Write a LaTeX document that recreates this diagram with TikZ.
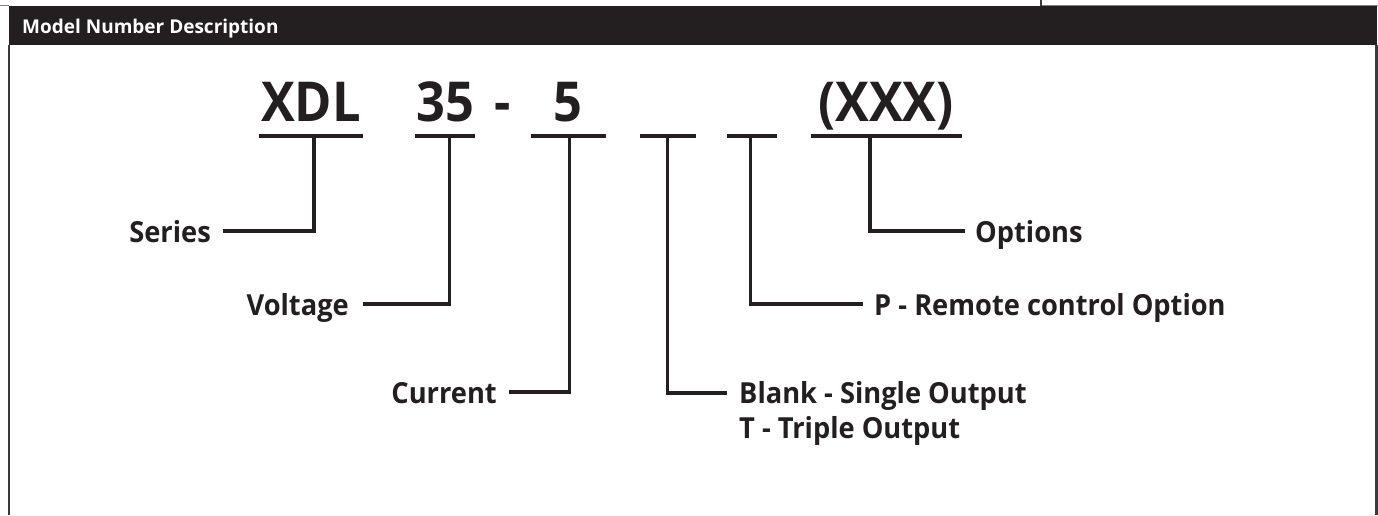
\documentclass[tikz,border=0pt]{standalone}
\usepackage{fontspec}
\setmainfont{Open Sans}
\newfontfamily\lblfont[FakeStretch=0.94]{Open Sans}
\newfontfamily\codefont[FakeStretch=0.92]{Open Sans}
\definecolor{ink}{HTML}{231F20}
\definecolor{edge}{HTML}{3A3A3A}
\tikzset{
  code/.style={anchor=base, inner sep=0pt, text=ink, font=\codefont\bfseries\fontsize{55}{60}\selectfont},
  lbl/.style={inner sep=0pt, text=ink, font=\lblfont\bfseries\fontsize{29}{35}\selectfont},
  uline/.style={draw=ink, line width=3.5pt},
  conn/.style={draw=ink, line width=3.5pt, line join=miter},
}
\begin{document}
\begin{tikzpicture}[x=1pt,y=-1pt]
\fill[white] (0,0) rectangle (1378,515);
\useasboundingbox (0,0) rectangle (1378,515);
% frame
\fill[ink] (9,6) rectangle (1377,45);
\draw[edge, line width=1.5pt] (9,45) -- (9,515);
\draw[edge, line width=2.5pt] (1376.5,45) -- (1376.5,515);
\draw[gray, line width=0.8pt] (0,5.6) -- (9,5.6);
\draw[gray, line width=0.8pt] (1041,5.6) -- (1378,5.6);
\draw[edge, line width=1.5pt] (1041,0) -- (1041,5.6);
\node[anchor=base west, inner sep=0pt, text=white, font=\bfseries\fontsize{19}{22}\selectfont] (title) at (22,33) {Model Number Description};
% codes
\node[code] (xdl) at (311,121) {XDL};
\node[code] (v35) at (445,121) {35};
\node[code] (dash) at (503,121) {-};
\node[code] (c5) at (568,121) {5};
\node[code] (opt) at (886,121) {(XXX)};
% underlines
\draw[uline] (259,136) -- (363,136);
\draw[uline] (415,136) -- (475,136);
\draw[uline] (531,136) -- (606,136);
\draw[uline] (640,136) -- (696,136);
\draw[uline] (727,136) -- (777,136);
\draw[uline] (811,136) -- (962,136);
% drop points
\coordinate (d1) at (314,136);
\coordinate (d2) at (449.5,136);
\coordinate (d3) at (569.5,136);
\coordinate (d4) at (667.5,136);
\coordinate (d5) at (750.5,136);
\coordinate (d6) at (870,136);
% line ends
\coordinate (e1) at (223,231);
\coordinate (e2) at (363,304);
\coordinate (e3) at (509,392);
\coordinate (e4) at (727,393);
\coordinate (e5) at (863,304);
\coordinate (e6) at (965,231);
% labels
\node[lbl, anchor=base east] (series) at (211,242) {Series};
\node[lbl, anchor=base east] (voltage) at (349,315) {Voltage};
\node[lbl, anchor=base east] (current) at (497,403) {Current};
\node[lbl, anchor=base west, align=left] (output) at (739,438) {Blank - Single Output\\T - Triple Output};
\node[lbl, anchor=base west] (remote) at (874,315) {P - Remote control Option};
\node[lbl, anchor=base west] (options) at (975,242) {Options};
% connectors
\draw[conn] (d1) |- (e1);
\draw[conn] (d2) |- (e2);
\draw[conn] (d3) |- (e3);
\draw[conn] (d4) |- (e4);
\draw[conn] (d5) |- (e5);
\draw[conn] (d6) |- (e6);
\end{tikzpicture}
\end{document}
